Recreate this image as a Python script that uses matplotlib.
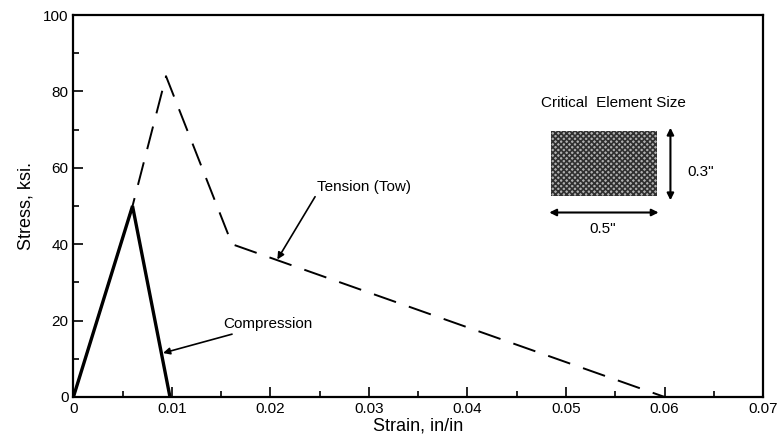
import matplotlib
matplotlib.use("Agg")
import matplotlib.pyplot as plt
from matplotlib.patches import Rectangle

# Stress-strain data
comp_strain = [0.0, 0.006, 0.0098]
comp_stress = [0.0, 50.0, 0.0]

tens_strain = [0.0, 0.006, 0.0094, 0.0161, 0.060]
tens_stress = [0.0, 50.0, 84.0, 40.0, 0.0]

x_ticks = [0, 0.01, 0.02, 0.03, 0.04, 0.05, 0.06, 0.07]
x_labels = ["0", "0.01", "0.02", "0.03", "0.04", "0.05", "0.06", "0.07"]
y_ticks = [0, 20, 40, 60, 80, 100]

plt.rcParams['font.family'] = ['Liberation Sans', 'DejaVu Sans']
plt.rcParams['hatch.linewidth'] = 1.2

fig = plt.figure(figsize=(7.81, 4.44), dpi=100)
# axes spans x pixels ~73-763, y pixels ~15-397
ax = fig.add_axes([0.094, 0.106, 0.883, 0.86])

ax.plot(tens_strain, tens_stress, color='black', lw=1.4, dashes=(12, 7))
ax.plot(comp_strain, comp_stress, color='black', lw=2.4, solid_joinstyle='miter')

ax.set_xlim(0, 0.07)
ax.set_ylim(0, 100)
ax.set_xticks(x_ticks)
ax.set_xticklabels(x_labels)
ax.set_yticks(y_ticks)
ax.set_xticks([0.005 + 0.01 * i for i in range(7)], minor=True)
ax.set_yticks([10, 30, 50, 70, 90], minor=True)
ax.tick_params(which='both', direction='in', width=1.2, labelsize=11)
ax.tick_params(which='major', length=7)
ax.tick_params(which='minor', length=4)
for s in ax.spines.values():
    s.set_linewidth(1.6)

ax.set_xlabel("Strain, in/in", fontsize=13, labelpad=1)
ax.set_ylabel("Stress, ksi.", fontsize=13, labelpad=6)

# annotations
ax.annotate("Compression", xy=(0.0091, 11.5), xytext=(0.0152, 19),
            fontsize=11, va='center',
            arrowprops=dict(arrowstyle='-|>', color='black', lw=1.2,
                            shrinkA=0, shrinkB=0, mutation_scale=10))
ax.annotate("Tension (Tow)", xy=(0.0207, 36), xytext=(0.0247, 55),
            fontsize=11, va='center',
            arrowprops=dict(arrowstyle='-|>', color='black', lw=1.2,
                            shrinkA=0, shrinkB=0, mutation_scale=10,
                            relpos=(0.0, 0.0)))

# critical element size inset
ax.text(0.0548, 77, "Critical  Element Size", fontsize=11, ha='center', va='center')
ax.add_patch(Rectangle((0.0485, 52.6), 0.0107, 17.0, facecolor='#b0b0b0',
                       edgecolor='#303030', hatch='xxxxxx', lw=0))
ax.annotate("", xy=(0.0606, 51.5), xytext=(0.0606, 70.5),
            arrowprops=dict(arrowstyle='<|-|>', color='black', lw=1.5,
                            shrinkA=0, shrinkB=0, mutation_scale=10))
ax.annotate("", xy=(0.0483, 48.3), xytext=(0.0594, 48.3),
            arrowprops=dict(arrowstyle='<|-|>', color='black', lw=1.5,
                            shrinkA=0, shrinkB=0, mutation_scale=10))
ax.text(0.0623, 59, '0.3"', fontsize=11, ha='left', va='center')
ax.text(0.0537, 44, '0.5"', fontsize=11, ha='center', va='center')

fig.savefig("out.png", dpi=100)
